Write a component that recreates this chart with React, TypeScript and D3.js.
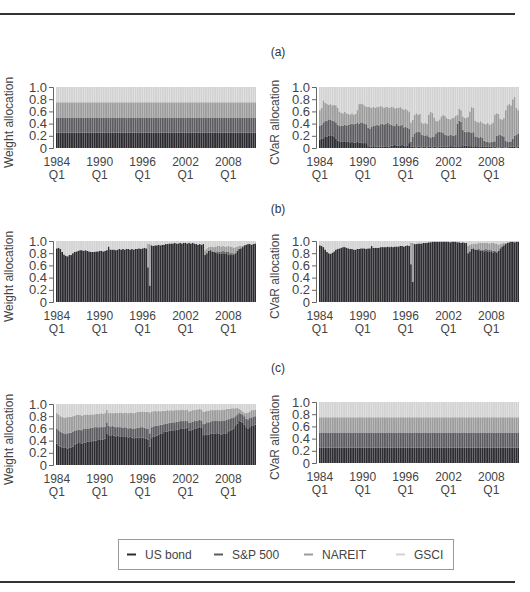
import React, { useEffect, useRef } from "react";
import * as d3 from "d3";

const assetKeys = ["bond", "sp", "nareit", "gsci"];
const assetNames = ["US bond", "S&P 500", "NAREIT", "GSCI"];
const assetColors = ["#2c2c30", "#5c5c60", "#9c9c9c", "#d2d2d2"];
const years = d3.range(1984, 2012);
const quarterLabels = years.flatMap((y) => [1, 2, 3, 4].map((q) => `${y} Q${q}`));
const yearTicks = ["1984", "1990", "1996", "2002", "2008"];
const yTicks = [0, 0.2, 0.4, 0.6, 0.8, 1.0];

// equal weights: every asset holds a quarter of the portfolio each quarter
const equalWeights = [0.25, 0.25, 0.25, 0.25];

// (a) right: CVaR allocation of the equally weighted portfolio (one row per year, Q1..Q4)
const aCvarBond = [
  .14, .15, .16, .18, .19, .20, .21, .20, .18, .15, .12, .11, .10, .10, .11, .10,
  .10, .09, .10, .09, .09, .10, .09, .09, .08, .08, .08, .03, .02, .02, .03, .02,
  .02, .02, .02, .02, .02, .03, .02, .02, .04, .04, .05, .04, .04, .04, .05, .04,
  .03, .04, .08, .02, .02, .02, .01, .02, .02, .01, .02, .02, .01, .02, .02, .01,
  .02, .02, .01, .02, .02, .02, .02, .02, .02, .03, .03, .02, .02, .03, .02, .03,
  .03, .04, .04, .03, .03, .03, .02, .03, .03, .02, .02, .03, .02, .02, .02, .02,
  .02, .01, .02, .01, .01, .01, .02, .01, .01, .01, .02, .02, .02, .02, .01, .02,
];
const aCvarSp = [
  .22, .23, .26, .26, .26, .27, .25, .25, .26, .27, .26, .25, .26, .27, .27, .27,
  .28, .30, .30, .30, .31, .31, .31, .33, .33, .32, .31, .30, .30, .33, .34, .34,
  .36, .35, .37, .38, .36, .37, .39, .37, .34, .33, .31, .36, .33, .32, .33, .30,
  .32, .29, .24, .08, .16, .22, .25, .25, .24, .21, .19, .18, .20, .16, .15, .18,
  .16, .22, .25, .25, .24, .23, .20, .19, .18, .19, .18, .18, .20, .37, .43, .40,
  .27, .23, .22, .24, .23, .22, .24, .16, .15, .15, .16, .14, .10, .08, .08, .07,
  .08, .09, .09, .19, .20, .21, .18, .18, .11, .09, .08, .09, .13, .18, .21, .21,
];
const aCvarNareit = [
  .26, .28, .36, .30, .27, .24, .26, .25, .27, .28, .28, .24, .22, .20, .21, .20,
  .18, .16, .17, .16, .16, .21, .32, .31, .31, .30, .29, .35, .35, .31, .31, .30,
  .30, .30, .30, .28, .28, .28, .26, .27, .30, .30, .29, .26, .29, .31, .27, .29,
  .29, .29, .28, .32, .28, .30, .31, .28, .30, .20, .19, .21, .19, .37, .42, .39,
  .32, .21, .18, .20, .26, .29, .31, .28, .28, .25, .28, .30, .31, .14, .19, .19,
  .22, .23, .23, .24, .34, .42, .40, .26, .25, .25, .26, .24, .28, .29, .31, .29,
  .30, .32, .44, .37, .35, .26, .27, .30, .50, .60, .62, .59, .65, .64, .44, .39,
];

// (b) left: portfolio weights
const bWeightBond = [
  .88, .89, .87, .82, .78, .76, .75, .77, .77, .80, .82, .83, .84, .85, .85, .84,
  .85, .84, .83, .82, .82, .82, .83, .83, .84, .84, .83, .84, .85, .91, .86, .86,
  .86, .85, .86, .87, .86, .87, .86, .87, .87, .86, .87, .86, .87, .87, .88, .87,
  .88, .89, .88, .57, .27, .93, .92, .93, .93, .94, .93, .94, .94, .95, .95, .96,
  .96, .96, .97, .96, .96, .97, .96, .97, .97, .96, .97, .96, .97, .96, .95, .94,
  .95, .94, .95, .77, .80, .84, .85, .83, .82, .81, .80, .80, .79, .80, .79, .80,
  .78, .77, .78, .77, .80, .84, .87, .88, .90, .93, .94, .95, .95, .94, .95, .96,
];
const bWeightSp = [
  0, 0, 0, 0, 0, 0, 0, 0, 0, 0, 0, 0, 0, 0, 0, 0,
  0, 0, 0, 0, 0, 0, 0, 0, 0, 0, 0, 0, 0, 0, 0, 0,
  0, 0, 0, 0, 0, 0, 0, 0, 0, 0, 0, 0, 0, 0, 0, 0,
  0, 0, 0, 0, 0, 0, 0, 0, 0, 0, 0, 0, 0, 0, 0, 0,
  0, 0, 0, 0, 0, 0, 0, 0, 0, 0, 0, 0, 0, 0, 0, 0,
  0, 0, 0, 0, 0, 0, 0, 0, 0, .02, .03, .03, .03, .04, .03, .03,
  .04, .03, .03, .02, 0, 0, 0, 0, 0, 0, 0, 0, 0, 0, 0, 0,
];
const bWeightNareit = [
  0, 0, 0, 0, 0, 0, 0, 0, 0, 0, 0, 0, 0, 0, 0, 0,
  0, 0, 0, 0, 0, 0, 0, 0, 0, 0, 0, 0, 0, 0, 0, 0,
  0, 0, 0, 0, 0, 0, 0, 0, 0, 0, 0, 0, 0, 0, 0, 0,
  0, 0, 0, .38, .68, 0, 0, 0, 0, 0, 0, 0, 0, 0, 0, 0,
  0, 0, 0, 0, 0, 0, 0, 0, 0, 0, 0, 0, 0, 0, 0, 0,
  0, 0, 0, .08, .08, .06, .06, .08, .08, .08, .09, .09, .09, .08, .09, .08,
  .10, .11, .10, .10, .10, .07, .05, .04, .02, .01, 0, 0, 0, 0, 0, 0,
];

// (b) right: CVaR allocation of the (b) portfolio
const bCvarBond = [
  .93, .92, .90, .86, .82, .80, .79, .81, .83, .86, .87, .88, .89, .90, .90, .89,
  .88, .87, .87, .86, .86, .87, .87, .88, .88, .88, .87, .88, .88, .92, .89, .89,
  .89, .89, .90, .90, .90, .90, .91, .90, .91, .90, .91, .91, .91, .92, .92, .91,
  .92, .93, .92, .62, .33, .95, .95, .96, .96, .96, .97, .97, .97, .98, .98, .99,
  .99, .99, .99, .99, .99, .99, .99, .99, .99, .98, .99, .99, .99, .98, .98, .97,
  .98, .97, .97, .80, .83, .87, .88, .86, .86, .85, .84, .84, .83, .84, .83, .83,
  .82, .81, .82, .81, .84, .88, .91, .93, .95, .97, .98, .99, .99, .98, .99, .99,
];
const bCvarSp = [
  0, 0, 0, 0, 0, 0, 0, 0, 0, 0, 0, 0, 0, 0, 0, 0,
  0, 0, 0, 0, 0, 0, 0, 0, 0, 0, 0, 0, 0, 0, 0, 0,
  0, 0, 0, 0, 0, 0, 0, 0, 0, 0, 0, 0, 0, 0, 0, 0,
  0, 0, 0, 0, 0, 0, 0, 0, 0, 0, 0, 0, 0, 0, 0, 0,
  0, 0, 0, 0, 0, 0, 0, 0, 0, 0, 0, 0, 0, 0, 0, 0,
  0, 0, 0, 0, 0, 0, 0, 0, 0, .02, .02, .02, .03, .03, .03, .03,
  .03, .03, .02, .02, 0, 0, 0, 0, 0, 0, 0, 0, 0, 0, 0, 0,
];
const bCvarNareit = [
  0, 0, 0, 0, 0, 0, 0, 0, 0, 0, 0, 0, 0, 0, 0, 0,
  0, 0, 0, 0, 0, 0, 0, 0, 0, 0, 0, 0, 0, 0, 0, 0,
  0, 0, 0, 0, 0, 0, 0, 0, 0, 0, 0, 0, 0, 0, 0, 0,
  0, 0, 0, .35, .64, 0, 0, 0, 0, 0, 0, 0, 0, 0, 0, 0,
  0, 0, 0, 0, 0, 0, 0, 0, 0, 0, 0, 0, 0, 0, 0, 0,
  0, 0, 0, .12, .11, .08, .08, .10, .10, .10, .11, .11, .11, .10, .11, .10,
  .12, .13, .12, .13, .10, .07, .05, .04, .02, .01, 0, 0, 0, 0, 0, 0,
];

// (c) left: portfolio weights
const cWeightBond = [
  .35, .32, .30, .29, .28, .28, .27, .28, .29, .30, .33, .35, .36, .36, .35, .37,
  .37, .38, .38, .39, .39, .40, .40, .41, .41, .42, .42, .43, .52, .49, .48, .49,
  .48, .47, .48, .47, .47, .46, .47, .46, .45, .46, .45, .44, .44, .45, .44, .45,
  .45, .44, .43, .42, .30, .44, .46, .47, .48, .50, .51, .52, .54, .55, .55, .56,
  .56, .57, .57, .58, .58, .59, .59, .60, .60, .61, .56, .57, .58, .59, .60, .61,
  .62, .61, .49, .49, .50, .50, .51, .51, .51, .52, .52, .51, .50, .51, .51, .52,
  .54, .56, .58, .60, .64, .68, .72, .71, .69, .66, .62, .60, .62, .64, .65, .66,
];
const cWeightSp = [
  .25, .25, .25, .24, .24, .23, .25, .25, .24, .25, .23, .22, .22, .22, .22, .22,
  .22, .22, .22, .22, .22, .22, .22, .21, .21, .21, .20, .20, .18, .15, .15, .15,
  .15, .15, .15, .15, .15, .15, .15, .15, .15, .15, .15, .16, .16, .16, .17, .17,
  .17, .17, .17, .18, .22, .18, .17, .17, .16, .15, .15, .14, .13, .13, .13, .13,
  .13, .13, .13, .13, .13, .13, .13, .12, .12, .12, .13, .13, .13, .13, .12, .12,
  .12, .12, .18, .19, .20, .20, .20, .21, .21, .21, .21, .21, .22, .22, .22, .22,
  .21, .20, .19, .18, .16, .15, .13, .13, .13, .14, .14, .15, .15, .14, .14, .14,
];
const cWeightNareit = [
  .25, .26, .25, .26, .26, .27, .27, .26, .26, .25, .25, .25, .24, .24, .24, .23,
  .23, .23, .22, .22, .22, .21, .22, .22, .22, .22, .22, .22, .20, .21, .23, .21,
  .22, .24, .22, .24, .24, .24, .24, .25, .25, .25, .26, .25, .26, .26, .26, .25,
  .26, .26, .27, .27, .34, .26, .25, .25, .24, .24, .22, .23, .22, .21, .22, .20,
  .21, .19, .20, .19, .19, .18, .19, .18, .18, .18, .19, .19, .19, .18, .19, .18,
  .18, .18, .20, .20, .19, .19, .19, .18, .18, .17, .18, .18, .18, .18, .18, .18,
  .17, .16, .16, .15, .13, .11, .07, .06, .06, .06, .09, .11, .11, .12, .11, .11,
];

type Row = { q: string; [k: string]: any };

// GSCI holds whatever the other three assets leave
function buildRows(bond?: number[], sp?: number[], nareit?: number[]): Row[] {
  return quarterLabels.map((q, i) => {
    const b = bond ? bond[i] : equalWeights[0];
    const s = sp ? sp[i] : equalWeights[1];
    const n = nareit ? nareit[i] : equalWeights[2];
    const g = bond ? Math.max(0, 1 - b - s - n) : equalWeights[3];
    return { q, bond: b, sp: s, nareit: n, gsci: g };
  });
}

const panels = [
  { rows: buildRows(), x0: 56, x1: 256, top: 87, bottom: 148, label: "Weight allocation", labelX: 9 },
  { rows: buildRows(aCvarBond, aCvarSp, aCvarNareit), x0: 319, x1: 519, top: 87, bottom: 148, label: "CVaR allocation", labelX: 275 },
  { rows: buildRows(bWeightBond, bWeightSp, bWeightNareit), x0: 56, x1: 256, top: 241, bottom: 302, label: "Weight allocation", labelX: 9 },
  { rows: buildRows(bCvarBond, bCvarSp, bCvarNareit), x0: 319, x1: 519, top: 241, bottom: 302, label: "CVaR allocation", labelX: 275 },
  { rows: buildRows(cWeightBond, cWeightSp, cWeightNareit), x0: 56, x1: 256, top: 404, bottom: 465, label: "Weight allocation", labelX: 9 },
  { rows: buildRows(), x0: 319, x1: 519, top: 402, bottom: 463, label: "CVaR allocation", labelX: 275 },
];

const titles = [
  { text: "(a)", y: 56 },
  { text: "(b)", y: 213 },
  { text: "(c)", y: 372 },
];

const font = "'Liberation Sans', Arial, sans-serif";

const App = () => {
  const ref = useRef<SVGSVGElement>(null);

  useEffect(() => {
    const svg = d3.select(ref.current);
    svg.selectAll("*").remove();

    // rules above and below the figure
    svg.append("line").attr("x1", 0).attr("x2", 515).attr("y1", 14).attr("y2", 14)
      .attr("stroke", "#333").attr("stroke-width", 2);
    svg.append("line").attr("x1", 0).attr("x2", 515).attr("y1", 582).attr("y2", 582)
      .attr("stroke", "#333").attr("stroke-width", 2);

    titles.forEach((t) => {
      svg.append("text").attr("x", 278).attr("y", t.y).attr("text-anchor", "middle")
        .attr("font-family", font).attr("font-size", 12).attr("fill", "#333").text(t.text);
    });

    const stack = d3.stack<Row>().keys(assetKeys);

    panels.forEach((p) => {
      const g = svg.append("g");
      const x = d3.scaleBand().domain(quarterLabels).range([p.x0, p.x1]).paddingInner(0.07);
      const y = d3.scaleLinear().domain([0, 1]).range([p.bottom, p.top]);
      const series = stack(p.rows);

      series.forEach((s, si) => {
        g.append("g").attr("fill", assetColors[si])
          .selectAll("rect")
          .data(s)
          .join("rect")
          .attr("x", (d: any) => x(d.data.q) as number)
          .attr("width", x.bandwidth())
          .attr("y", (d: any) => y(Math.min(1, d[1])))
          .attr("height", (d: any) => Math.max(0, y(d[0]) - y(Math.min(1, d[1]))));
      });

      const yAxis = g.append("g")
        .attr("transform", `translate(${p.x0 - 3},0)`)
        .call(d3.axisLeft(y).tickValues(yTicks).tickSize(4).tickPadding(2)
          .tickFormat((d: any) => (d === 0 ? "0" : d3.format(".1f")(d))));
      yAxis.select(".domain").attr("stroke", "#666");
      yAxis.selectAll(".tick line").attr("stroke", "#666");
      yAxis.selectAll("text").attr("font-family", font).attr("font-size", 13).attr("fill", "#444");

      yearTicks.forEach((yr) => {
        const cx = (x(`${yr} Q1`) as number) + x.bandwidth() / 2;
        const t = g.append("text").attr("text-anchor", "middle")
          .attr("font-family", font).attr("font-size", 12).attr("fill", "#444");
        t.append("tspan").attr("x", cx).attr("y", p.bottom + 18).text(yr);
        t.append("tspan").attr("x", cx).attr("y", p.bottom + 31).text("Q1");
      });

      g.append("text")
        .attr("transform", `translate(${p.labelX},${(p.top + p.bottom) / 2 + 5}) rotate(-90)`)
        .attr("text-anchor", "middle").attr("dy", "0.35em")
        .attr("font-family", font).attr("font-size", 12).attr("fill", "#444")
        .text(p.label);
    });

    // legend
    const legend = svg.append("g");
    legend.append("rect").attr("x", 118.5).attr("y", 539.5).attr("width", 335).attr("height", 30)
      .attr("fill", "none").attr("stroke", "#999");
    const legendX = [127, 214, 304, 396];
    assetNames.forEach((name, i) => {
      legend.append("line").attr("x1", legendX[i]).attr("x2", legendX[i] + 9)
        .attr("y1", 554.5).attr("y2", 554.5).attr("stroke", assetColors[i]).attr("stroke-width", 2);
      legend.append("text").attr("x", legendX[i] + 18).attr("y", 558.5)
        .attr("font-family", font).attr("font-size", 12).attr("fill", "#444").text(name);
    });
  }, []);

  return (
    <svg ref={ref} width={530} height={592}
      style={{ position: "absolute", left: 0, top: 0, background: "#fff" }} />
  );
};

export default App;
